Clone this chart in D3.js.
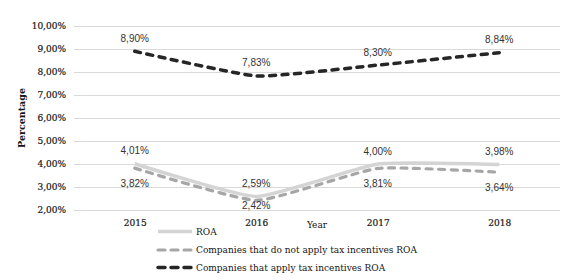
<!DOCTYPE html>
<html>
<head>
<meta charset="utf-8">
<script src="https://cdn.jsdelivr.net/npm/d3@7"></script>
<style>
  body { margin: 0; background: #fff; }
</style>
</head>
<body>
<div id="chart-area"></div>
<script>
var years = ["2015", "2016", "2017", "2018"];
var roa = [4.01, 2.59, 4.0, 3.98];
var noIncentiveRoa = [3.82, 2.42, 3.81, 3.64];
var incentiveRoa = [8.9, 7.83, 8.3, 8.84];
var yTicks = [2, 3, 4, 5, 6, 7, 8, 9, 10];

var series = [
  { name: "ROA", values: roa, color: "#d4d4d4", width: 3.5, dash: null, label: "above" },
  { name: "Companies that do not apply tax incentives ROA", values: noIncentiveRoa, color: "#a6a6a6", width: 3.2, dash: "6,6.5", label: "below" },
  { name: "Companies that apply tax incentives ROA", values: incentiveRoa, color: "#262626", width: 3.5, dash: "6,6.5", label: "above" }
];

var W = 579, H = 280;
var plotLeft = 74, plotRight = 560, plotTop = 26, plotBottom = 210;
var serif = "'DejaVu Serif', serif";
var sans = "'Liberation Sans', Arial, sans-serif";
var textColor = "#141414";

var svg = d3.select("#chart-area").append("svg")
  .attr("width", W).attr("height", H)
  .attr("viewBox", "0 0 " + W + " " + H);

var x = d3.scalePoint().domain(years).range([plotLeft, plotRight]).padding(0.5);
var y = d3.scaleLinear().domain([2, 10]).range([plotBottom, plotTop]);
var fmt = function (v) { return v.toFixed(2).replace(".", ",") + "%"; };

// gridlines + y labels
var yAxis = d3.axisLeft(y).tickValues(yTicks).tickSize(-(plotRight - plotLeft)).tickPadding(8).tickFormat(fmt);
var gy = svg.append("g").attr("transform", "translate(" + plotLeft + ",0)").call(yAxis);
gy.select(".domain").remove();
gy.selectAll(".tick line").attr("stroke", "#d9d9d9").attr("stroke-width", 1);
gy.selectAll(".tick text")
  .attr("font-family", serif).attr("font-size", "9px").attr("fill", textColor)
  .attr("stroke", textColor).attr("stroke-width", 0.2);

// x labels
var xAxis = d3.axisBottom(x).tickSize(0).tickPadding(10);
var gx = svg.append("g").attr("transform", "translate(0," + plotBottom + ")").call(xAxis);
gx.select(".domain").remove();
gx.selectAll(".tick text")
  .attr("font-family", serif).attr("font-size", "9px").attr("fill", textColor)
  .attr("stroke", textColor).attr("stroke-width", 0.2);

// axis titles
svg.append("text")
  .attr("x", (plotLeft + plotRight) / 2).attr("y", 228)
  .attr("text-anchor", "middle")
  .attr("font-family", serif).attr("font-size", "9px").attr("fill", textColor)
  .text("Year");

svg.append("text")
  .attr("transform", "translate(25," + (plotTop + plotBottom) / 2 + ") rotate(-90)")
  .attr("text-anchor", "middle")
  .attr("font-family", serif).attr("font-size", "9.5px").attr("font-weight", "bold").attr("fill", textColor)
  .text("Percentage");

// lines
var line = d3.line()
  .x(function (d, i) { return x(years[i]); })
  .y(function (d) { return y(d); })
  .curve(d3.curveCardinal.tension(0.55));

series.forEach(function (s) {
  svg.append("path")
    .datum(s.values)
    .attr("d", line)
    .attr("fill", "none")
    .attr("stroke", s.color)
    .attr("stroke-width", s.width)
    .attr("stroke-dasharray", s.dash)
    .attr("stroke-linecap", s.dash ? "round" : "butt");
});

// data labels
series.forEach(function (s) {
  svg.selectAll(null)
    .data(s.values)
    .enter()
    .append("text")
    .attr("x", function (d, i) { return x(years[i]); })
    .attr("y", function (d) {
      if (s.label === "above") return y(d) - 9.5;
      return Math.min(y(d) + 18.5, plotBottom - 1);
    })
    .attr("text-anchor", "middle")
    .attr("font-family", sans).attr("font-size", "10px").attr("fill", "#333")
    .text(fmt);
});

// legend
var legend = svg.append("g").attr("transform", "translate(157,231.5)");
var items = legend.selectAll("g").data(series).enter().append("g")
  .attr("transform", function (d, i) { return "translate(0," + [0, 18.5, 36][i] + ")"; });
items.append("line")
  .attr("x1", 1).attr("x2", 35).attr("y1", 0).attr("y2", 0)
  .attr("stroke", function (d) { return d.color; })
  .attr("stroke-width", function (d) { return d.width; })
  .attr("stroke-dasharray", function (d) { return d.dash ? "7,6" : null; })
  .attr("stroke-linecap", function (d) { return d.dash ? "round" : "butt"; });
items.append("text")
  .attr("x", 39).attr("y", 3.3)
  .attr("font-family", serif).attr("font-size", "9px").attr("fill", textColor)
  .text(function (d) { return d.name; });
</script>
</body>
</html>
